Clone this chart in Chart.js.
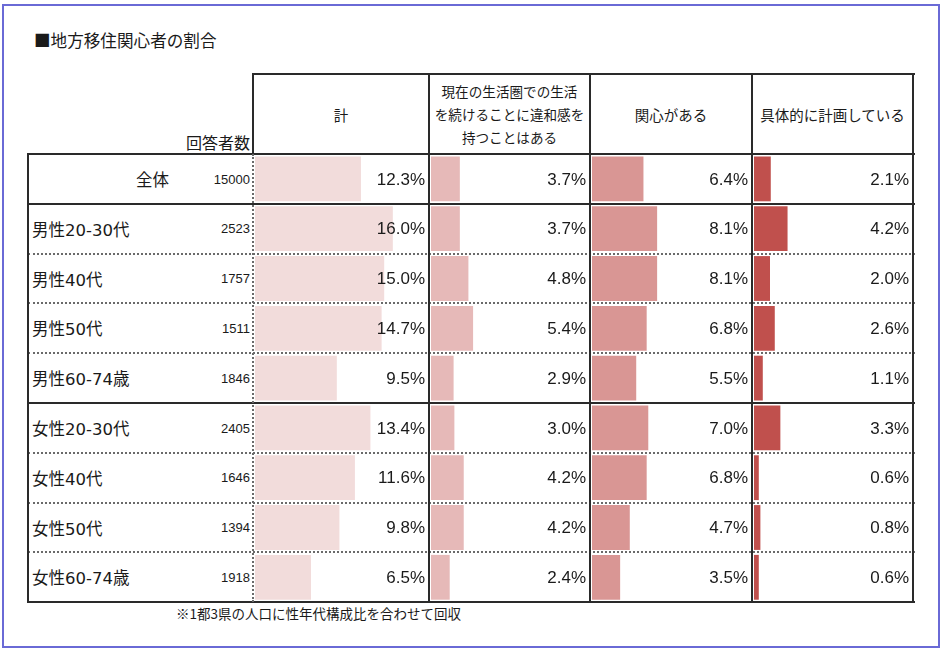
<!DOCTYPE html>
<html lang="ja">
<head>
<meta charset="utf-8">
<script src="https://cdn.jsdelivr.net/npm/chart.js@4.4.1/dist/chart.umd.min.js"></script>
<style>
  html, body { margin: 0; padding: 0; background: #fff; }
  body { width: 942px; height: 652px; position: relative; overflow: hidden;
         font-family: "Noto Sans CJK JP", "Noto Sans", sans-serif; color: #1a1a1a; }
  .abs { position: absolute; }
  .frame { left: 2px; top: 4px; width: 934px; height: 640px; border: 2px solid #6a6ad6; }
  .title { left: 34px; top: 29px; font-size: 16.6px; line-height: 22px; white-space: nowrap; }
  .hline { height: 0; border-top: 2px solid #2a2a2a; }
  .hdot { height: 0; border-top: 2px dotted #6a6a6a; }
  .vline { width: 0; border-left: 2px solid #2a2a2a; }
  .vdot { width: 0; border-left: 2px dotted #6a6a6a; }
  .head { display: flex; align-items: center; justify-content: center; text-align: center;
          font-size: 14.5px; line-height: 23px; white-space: nowrap; }
  .lbl { font-family: "DejaVu Sans", "Noto Sans CJK JP", sans-serif; font-size: 16.5px; white-space: nowrap;
         display: flex; align-items: center; height: 50px; }
  .cnt { font-family: "Liberation Sans", Arial, sans-serif; font-size: 13px; text-align: right;
         width: 80px; display: flex; align-items: center; justify-content: flex-end; height: 50px; }
  .note { font-size: 13.5px; white-space: nowrap; }
  .chartbox { position: absolute; }
</style>
</head>
<body>
<div class="abs frame"></div>
<div class="abs title">■地方移住関心者の割合</div>
<div id="table"></div>
<div class="abs note" style="left:176px; top:603px;">※1都3県の人口に性年代構成比を合わせて回収</div>

<script>
// ---- data ----
const categories = ['全体', '男性20-30代', '男性40代', '男性50代', '男性60-74歳', '女性20-30代', '女性40代', '女性50代', '女性60-74歳'];
const respondents = [15000, 2523, 1757, 1511, 1846, 2405, 1646, 1394, 1918];
const totalPct = [12.3, 16.0, 15.0, 14.7, 9.5, 13.4, 11.6, 9.8, 6.5];
const discomfortPct = [3.7, 3.7, 4.8, 5.4, 2.9, 3.0, 4.2, 4.2, 2.4];
const interestedPct = [6.4, 8.1, 8.1, 6.8, 5.5, 7.0, 6.8, 4.7, 3.5];
const planningPct = [2.1, 4.2, 2.0, 2.6, 1.1, 3.3, 0.6, 0.8, 0.6];
const headers = [['計'], ['現在の生活圏での生活', 'を続けることに違和感を', '持つことはある'], ['関心がある'], ['具体的に計画している']];
const countHeader = '回答者数';

// ---- layout ----
const colX = [253, 429, 590, 752, 913];   // column edges
const headSize = ['14.5px', '13.6px', '14.5px', '14.5px'];
const tableLeft = 28, headTop = 74, headBottom = 154, rowH = 49.8;
const tableBottom = headBottom + rowH * categories.length;
const colors = ['#f2dcdb', '#e6b9b8', '#d99694', '#c0504d'];
const scaleMax = [20.2, 20.4, 19.9, 19.9];
const series = [totalPct, discomfortPct, interestedPct, planningPct];
const solidRows = [0, 4]; // solid line below these rows

const table = document.getElementById('table');
function add(cls, style, text) {
  const d = document.createElement('div');
  d.className = 'abs ' + cls;
  Object.assign(d.style, style);
  if (text !== undefined) d.innerHTML = text;
  table.appendChild(d);
  return d;
}

// header cells
headers.forEach((lines, i) => {
  add('head', { left: colX[i] + 'px', top: headTop + 'px', width: (colX[i + 1] - colX[i]) + 'px',
                height: (headBottom - headTop) + 'px', fontSize: headSize[i] }, lines.join('<br>'));
});
add('', { left: '150px', top: '130px', width: '100px', textAlign: 'right', fontSize: '16px' }, countHeader);

// row labels and counts
categories.forEach((c, i) => {
  const top = headBottom + rowH * i;
  if (i === 0) add('lbl', { left: '136px', top: top + 'px' }, c);
  else add('lbl', { left: '32px', top: top + 'px' }, c);
  add('cnt', { left: '170px', top: top + 'px' }, respondents[i]);
});

// charts, one per column
series.forEach((vals, k) => {
  const box = add('chartbox', {
    left: (colX[k] + 2) + 'px', top: headBottom + 'px',
    width: (colX[k + 1] - colX[k] - 2) + 'px', height: (tableBottom - headBottom) + 'px'
  });
  const cv = document.createElement('canvas');
  box.appendChild(cv);
  new Chart(cv, {
    type: 'bar',
    data: {
      labels: categories,
      datasets: [{ data: vals, backgroundColor: colors[k], borderWidth: 0, barPercentage: 0.9, categoryPercentage: 1 }]
    },
    options: {
      indexAxis: 'y',
      responsive: true,
      maintainAspectRatio: false,
      animation: false,
      layout: { padding: 0 },
      plugins: { legend: { display: false }, tooltip: { enabled: false } },
      scales: {
        x: { display: false, min: 0, max: scaleMax[k] },
        y: { display: false, offset: true }
      }
    },
    plugins: [{
      id: 'valueLabels',
      afterDatasetsDraw(chart) {
        const ctx = chart.ctx;
        const meta = chart.getDatasetMeta(0);
        ctx.save();
        ctx.font = '17px "Liberation Sans", Arial, sans-serif';
        ctx.fillStyle = '#1a1a1a';
        ctx.textAlign = 'right';
        ctx.textBaseline = 'middle';
        meta.data.forEach((bar, i) => {
          ctx.fillText(vals[i].toFixed(1) + '%', chart.chartArea.right - 4, bar.y + 1);
        });
        ctx.restore();
      }
    }]
  });
});

// grid lines (drawn on top)
add('hline', { left: colX[0] + 'px', top: (headTop - 1) + 'px', width: (colX[4] - colX[0] + 2) + 'px' });
add('hline', { left: tableLeft + 'px', top: (headBottom - 1) + 'px', width: (colX[4] - tableLeft + 2) + 'px' });
categories.forEach((c, i) => {
  const y = headBottom + rowH * (i + 1) - 1;
  const solid = solidRows.includes(i) || i === categories.length - 1;
  add(solid ? 'hline' : 'hdot', { left: tableLeft + 'px', top: y + 'px', width: (colX[4] - tableLeft + 2) + 'px' });
});
add('vline', { left: (tableLeft - 1) + 'px', top: (headBottom - 1) + 'px', height: (tableBottom - headBottom + 2) + 'px' });
add('vline', { left: (colX[0] - 1) + 'px', top: (headTop - 1) + 'px', height: (headBottom - headTop) + 'px' });
add('vdot', { left: (colX[0] - 1) + 'px', top: headBottom + 'px', height: (tableBottom - headBottom) + 'px' });
for (let i = 1; i < colX.length; i++) {
  add('vline', { left: (colX[i] - 1) + 'px', top: (headTop - 1) + 'px', height: (tableBottom - headTop + 2) + 'px' });
}
</script>
</body>
</html>
